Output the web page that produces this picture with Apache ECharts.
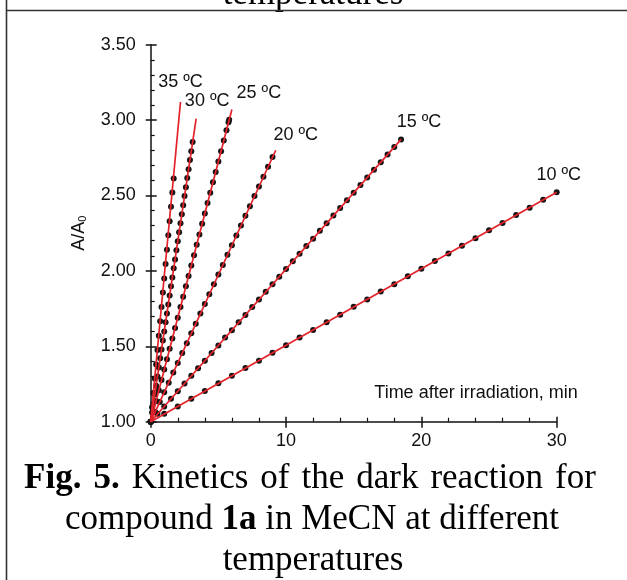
<!DOCTYPE html>
<html><head><meta charset="utf-8">
<script src="https://cdn.jsdelivr.net/npm/echarts@6/dist/echarts.min.js"></script>
<style>html,body{margin:0;padding:0;background:#fff}#c{width:627px;height:580px}</style>
</head><body><div id="c"></div>
<script>
// ---- data ----
const tempLabels = ['10 ºC', '15 ºC', '20 ºC', '25 ºC', '30 ºC', '35 ºC'];
const xTicks = [0, 10, 20, 30];
const yTicks = ['1.00', '1.50', '2.00', '2.50', '3.00', '3.50'];

const t10 = [0,1,2,3,4,5,6,7,8,9,10,11,12,13,14,15,16,17,18,19,20,21,22,23,24,25,26,27,28,29,30];
const y10 = [1.000,1.052,1.101,1.153,1.203,1.255,1.304,1.356,1.405,1.457,1.507,1.559,1.608,1.660,1.710,1.762,1.811,1.863,1.912,1.964,2.014,2.066,2.115,2.167,2.216,2.269,2.318,2.370,2.419,2.471,2.521];

const t15 = [0,0.5,1,1.5,2,2.5,3,3.5,4,4.5,5,5.5,6,6.5,7,7.5,8,8.5,9,9.5,10,10.5,11,11.5,12,12.5,13,13.5,14,14.5,15,15.5,16,16.5,17,17.5,18,18.5];
const y15 = [1.000,1.052,1.101,1.153,1.202,1.254,1.304,1.355,1.405,1.456,1.506,1.558,1.607,1.659,1.708,1.760,1.810,1.861,1.911,1.962,2.012,2.064,2.113,2.165,2.214,2.266,2.316,2.367,2.417,2.468,2.518,2.570,2.619,2.671,2.720,2.772,2.822,2.872];

const t20 = [0,0.33,0.67,1,1.33,1.67,2,2.33,2.67,3,3.33,3.67,4,4.33,4.67,5,5.33,5.67,6,6.33,6.67,7,7.33,7.67,8,8.33,8.67,9];
const y20 = [1.000,1.065,1.131,1.196,1.259,1.327,1.390,1.455,1.521,1.586,1.649,1.717,1.780,1.845,1.911,1.976,2.039,2.107,2.170,2.235,2.301,2.366,2.429,2.497,2.560,2.625,2.691,2.756];

const t25 = [0,0.2,0.4,0.6,0.8,1,1.2,1.4,1.6,1.8,2,2.2,2.4,2.6,2.8,3,3.2,3.4,3.6,3.8,4,4.2,4.4,4.6,4.8,5,5.2,5.4,5.6,5.75,5.8];
const y25 = [1.000,1.070,1.138,1.208,1.276,1.346,1.414,1.484,1.552,1.622,1.690,1.760,1.828,1.898,1.966,2.036,2.104,2.174,2.242,2.312,2.380,2.450,2.518,2.588,2.656,2.726,2.794,2.864,2.932,2.985,3.003];

const t30 = [0,0.1,0.2,0.3,0.4,0.5,0.6,0.7,0.8,0.9,1,1.1,1.2,1.3,1.4,1.5,1.6,1.7,1.8,1.9,2,2.1,2.2,2.3,2.4,2.5,2.6,2.7,2.8,2.9,3,3.1];
const y30 = [1.000,1.061,1.120,1.180,1.239,1.300,1.359,1.420,1.478,1.539,1.598,1.659,1.718,1.778,1.837,1.898,1.957,2.018,2.076,2.137,2.196,2.257,2.316,2.376,2.435,2.496,2.555,2.616,2.674,2.735,2.794,2.854];

const t35 = [0,0.1,0.2,0.3,0.4,0.5,0.6,0.7,0.8,0.9,1,1.1,1.2,1.3,1.4,1.5,1.6,1.7];
const y35 = [1.000,1.096,1.190,1.286,1.380,1.476,1.570,1.666,1.760,1.856,1.950,2.046,2.140,2.236,2.330,2.426,2.520,2.612];

// fitted lines: start and end points
const fitStart = [0, 1];
const fitEnd = [[30, 2.521], [18.5, 2.872], [9.24, 2.80], [6.0, 3.07], [3.36, 3.01], [2.2, 3.12]];

// ---- chart ----
const times = [t10, t15, t20, t25, t30, t35];
const vals = [y10, y15, y20, y25, y30, y35];
const labelOffsets = [[2, -17], [18, -17], [20, -15], [27, -17], [11, -18], [0, -20]];

const RED = '#e3222b';
const DOT = '#151515';
const AXC = '#111';
const sans = 'Liberation Sans, Arial, sans-serif';
const serif = 'Liberation Serif, Times New Roman, serif';
const FS = 18;
const CFS = 35;

const series = [];
times.forEach((t, i) => {
  series.push({
    type: 'scatter', name: tempLabels[i], xAxisIndex: 0, yAxisIndex: 0,
    data: t.map((x, k) => [x, vals[i][k]]),
    symbol: 'circle', symbolSize: 6,
    itemStyle: { color: DOT, opacity: 1 },
    z: 3, silent: true
  });
});
fitEnd.forEach((e, i) => {
  series.push({
    type: 'line', name: tempLabels[i] + ' fit', xAxisIndex: 0, yAxisIndex: 0,
    data: [
      { value: fitStart },
      { value: e, label: { show: true, formatter: tempLabels[i], position: 'inside',
        offset: labelOffsets[i], color: '#111', fontFamily: sans, fontSize: FS } }
    ],
    symbol: 'circle', symbolSize: 0, showSymbol: true,
    lineStyle: { color: RED, width: 1.7 },
    itemStyle: { color: RED },
    label: { show: false },
    z: 4, silent: true
  });
});

const capRich = {
  b: { fontFamily: serif, fontSize: CFS, fontWeight: 'bold', fill: '#000' },
  s1: { fontFamily: serif, fontSize: CFS, width: 12 }
};

const chart = echarts.init(document.getElementById('c'), null, { renderer: 'canvas' });
chart.setOption({
  animation: false,
  backgroundColor: '#fff',
  grid: { left: 150.7, right: 70.3, top: 44.7, bottom: 158.3, containLabel: false },
  xAxis: [
    { type: 'value', min: xTicks[0], max: xTicks[xTicks.length - 1], interval: 10,
      axisLine: { show: true, lineStyle: { color: AXC, width: 1.5 } },
      axisTick: { show: true, inside: true, length: 5, lineStyle: { color: AXC, width: 1.5 } },
      minorTick: { show: true, splitNumber: 5, length: 4, lineStyle: { color: AXC, width: 1.2 } },
      splitLine: { show: false },
      axisLabel: { show: true, margin: 10, color: '#111', fontFamily: sans, fontSize: FS } },
    { type: 'value', position: 'bottom', min: xTicks[0], max: xTicks[xTicks.length - 1], interval: 10,
      axisLine: { show: false },
      axisTick: { show: true, inside: false, length: 6, lineStyle: { color: AXC, width: 1.5 } },
      splitLine: { show: false }, axisLabel: { show: false } }
  ],
  yAxis: [
    { type: 'value', min: 1, max: 3.5, interval: 0.5,
      name: '{a|A/A}{s|0}', nameLocation: 'middle', nameGap: 62, nameRotate: 90,
      nameTextStyle: { color: '#111', fontFamily: sans, fontSize: FS,
        rich: { a: { fontFamily: sans, fontSize: FS, color: '#111' },
                s: { fontFamily: sans, fontSize: 11, color: '#111', padding: [9, 0, 0, 0] } } },
      axisLine: { show: true, lineStyle: { color: AXC, width: 1.5 } },
      axisTick: { show: true, inside: true, length: 6, lineStyle: { color: AXC, width: 1.5 } },
      minorTick: { show: true, splitNumber: 5, length: 4, lineStyle: { color: AXC, width: 1.2 } },
      splitLine: { show: false },
      axisLabel: { show: true, margin: 15, color: '#111', fontFamily: sans, fontSize: FS,
        formatter: v => yTicks.find(s => Math.abs(parseFloat(s) - v) < 1e-6) || '' } },
    { type: 'value', position: 'left', min: 1, max: 3.5, interval: 0.5,
      axisLine: { show: false },
      axisTick: { show: true, inside: false, length: 5, lineStyle: { color: AXC, width: 1.5 } },
      splitLine: { show: false }, axisLabel: { show: false } }
  ],
  series: series,
  graphic: [
    { type: 'line', shape: { x1: 6.5, y1: 0, x2: 6.5, y2: 580 }, style: { stroke: '#333', lineWidth: 1.6 }, z: 10 },
    { type: 'line', shape: { x1: 6, y1: 10.5, x2: 627, y2: 10.5 }, style: { stroke: '#333', lineWidth: 1.6 }, z: 10 },
    { type: 'text', x: 313, y: -5, style: { text: 'temperatures', font: CFS + 'px ' + serif, fill: '#000', align: 'center', verticalAlign: 'middle' } },
    { type: 'text', x: 476, y: 393, style: { text: 'Time after irradiation, min', font: FS + 'px ' + sans, fill: '#111', align: 'center', verticalAlign: 'middle' } },
    { type: 'text', x: 310, y: 479, style: {
        text: '{b|Fig.}{s1| }{b|5.}{s1| }Kinetics{s1| }of{s1| }the{s1| }dark{s1| }reaction{s1| }for', font: CFS + 'px ' + serif, fill: '#000',
        align: 'center', verticalAlign: 'middle', rich: capRich } },
    { type: 'text', x: 312, y: 520, style: {
        text: 'compound {b|1a} in MeCN at different', font: CFS + 'px ' + serif, fill: '#000',
        align: 'center', verticalAlign: 'middle', rich: capRich } },
    { type: 'text', x: 313, y: 561, style: { text: 'temperatures', font: CFS + 'px ' + serif, fill: '#000', align: 'center', verticalAlign: 'middle' } }
  ]
});
</script>
</body></html>
